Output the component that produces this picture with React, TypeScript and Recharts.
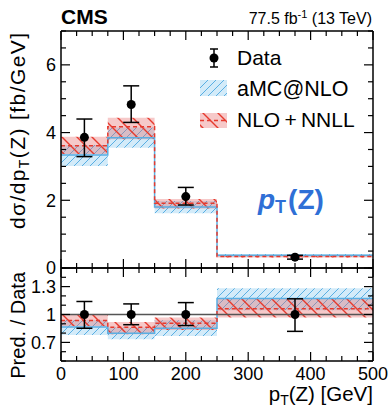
import React from "react";
import { ComposedChart, Area, Line, Scatter, ErrorBar, XAxis, YAxis, ReferenceLine } from "recharts";

// pT(Z) bins [GeV]
const binEdges = [0, 75, 150, 250, 500];
const binCenters = [37.5, 112.5, 200, 375];

// measured dsigma/dpT [fb/GeV] with total uncertainty band edges
const dataXsec = [3.86, 4.83, 2.11, 0.32];
const dataHigh = [4.4, 5.38, 2.38, 0.374];
const dataLow = [3.29, 4.3, 1.86, 0.262];

// aMC@NLO prediction
const amcCentral = [3.34, 3.85, 1.8, 0.375];
const amcLow = [3.01, 3.55, 1.62, 0.335];
const amcHigh = [3.63, 4.15, 1.98, 0.41];

// NLO+NNLL prediction
const nnllCentral = [3.61, 4.17, 1.91, 0.34];
const nnllLow = [3.37, 3.8, 1.76, 0.31];
const nnllHigh = [3.88, 4.44, 2.04, 0.375];

const xTicks = [0, 25, 50, 75, 100, 125, 150, 175, 200, 225, 250, 275, 300, 325, 350, 375, 400, 425, 450, 475, 500];
const xLabels = [0, 100, 200, 300, 400, 500];
const mainTicks = [0, 0.5, 1, 1.5, 2, 2.5, 3, 3.5, 4, 4.5, 5, 5.5, 6, 6.5, 7];
const mainLabels = [0, 2, 4, 6];
const ratioTicks = [0.5, 0.6, 0.7, 0.8, 0.9, 1, 1.1, 1.2, 1.3, 1.4, 1.5];
const ratioLabels = [0.7, 1, 1.3];

const FONT = "'Liberation Sans', Arial, Helvetica, sans-serif";
const BLUE = "#5aafe3";
const RED = "#e63a2e";

// step rows: one per bin edge, last edge repeats the last bin
function stepRows(central: number[], low: number[], high: number[], norm?: number[]) {
  return binEdges.map((x, i) => {
    const k = Math.min(i, central.length - 1);
    const d = norm ? norm[k] : 1;
    return { x, c: central[k] / d, band: [low[k] / d, high[k] / d] };
  });
}

const amcMain = stepRows(amcCentral, amcLow, amcHigh);
const nnllMain = stepRows(nnllCentral, nnllLow, nnllHigh);
const amcRatio = stepRows(amcCentral, amcLow, amcHigh, dataXsec);
const nnllRatio = stepRows(nnllCentral, nnllLow, nnllHigh, dataXsec);

const pointsMain = binCenters.map((x, i) => ({
  x,
  y: dataXsec[i],
  err: [dataXsec[i] - dataLow[i], dataHigh[i] - dataXsec[i]],
}));
const pointsRatio = binCenters.map((x, i) => ({
  x,
  y: 1,
  err: [(dataXsec[i] - dataLow[i]) / dataXsec[i], (dataHigh[i] - dataXsec[i]) / dataXsec[i]],
}));

const isMajor = (v: number, labels: number[]) => labels.some((l) => Math.abs(l - v) < 1e-6);

// inward pointing ticks, ROOT style
const makeTick =
  (side: "bottom" | "top" | "left" | "right", labels: number[], showText: boolean) =>
  (props: any) => {
    const { x, y, payload } = props;
    const v = payload.value as number;
    const big = isMajor(v, labels);
    const len = big ? 9 : 5;
    let x2 = x;
    let y2 = y;
    if (side === "bottom") y2 = y - len;
    if (side === "top") y2 = y + len;
    if (side === "left") x2 = x + len;
    if (side === "right") x2 = x - len;
    return (
      <g>
        <line x1={x} y1={y} x2={x2} y2={y2} stroke="#000" strokeWidth={1.2} />
        {showText && big && side === "bottom" && (
          <text x={x} y={y + 18.5} textAnchor="middle" fontFamily={FONT} fontSize={18} fill="#000">
            {v}
          </text>
        )}
        {showText && big && side === "left" && (
          <text x={x - 5} y={y} dy="0.36em" textAnchor="end" fontFamily={FONT} fontSize={18} fill="#000">
            {v}
          </text>
        )}
      </g>
    );
  };

const axisLine = { stroke: "#000", strokeWidth: 1.5 };

function Dot(p: any) {
  return <circle cx={p.cx} cy={p.cy} r={4.5} fill="#000" />;
}

export default function App() {
  return (
    <div style={{ position: "fixed", left: 0, top: 0, width: 388, height: 407, overflow: "hidden", background: "#fff" }}>
      <style>{`.recharts-surface { overflow: visible; }`}</style>
      <svg width={0} height={0} style={{ position: "absolute" }}>
        <defs>
          <pattern id="amcHatch" width={8} height={8} patternUnits="userSpaceOnUse">
            <rect width={8} height={8} fill="#d3ebf9" />
            <path d="M-2,2 L2,-2 M0,8 L8,0 M6,10 L10,6" stroke={BLUE} strokeWidth={1} />
          </pattern>
          <pattern id="nnllHatch" width={15} height={15} patternUnits="userSpaceOnUse">
            <rect width={15} height={15} fill="rgba(230,100,100,0.35)" />
            <path d="M-2,13 L2,17 M0,0 L15,15 M13,-2 L17,2" stroke={RED} strokeWidth={1.4} />
          </pattern>
        </defs>
      </svg>

      {/* upper panel: differential cross section */}
      <div style={{ position: "absolute", left: 0, top: 0 }}>
        <ComposedChart width={388} height={269} margin={{ top: 0, right: 0, bottom: 0, left: 0 }}>
          <XAxis xAxisId="top" orientation="top" dataKey="x" type="number" domain={[0, 500]} ticks={xTicks}
            interval={0} allowDataOverflow height={31} tickSize={0} tickMargin={0} tickLine={false}
            axisLine={axisLine} tick={makeTick("top", xLabels, false)} />
          <XAxis dataKey="x" type="number" domain={[0, 500]} ticks={xTicks} interval={0} allowDataOverflow
            height={1} tickSize={0} tickMargin={0} tickLine={false} axisLine={axisLine}
            tick={makeTick("bottom", xLabels, false)} />
          <YAxis type="number" domain={[0, 7]} ticks={mainTicks} interval={0} allowDataOverflow width={61}
            tickSize={0} tickMargin={0} tickLine={false} axisLine={axisLine} tick={makeTick("left", mainLabels, true)} />
          <YAxis yAxisId="right" orientation="right" type="number" domain={[0, 7]} ticks={mainTicks} interval={0}
            allowDataOverflow width={15} tickSize={0} tickMargin={0} tickLine={false} axisLine={axisLine}
            tick={makeTick("right", mainLabels, false)} />
          <Area data={amcMain} dataKey="band" type="stepAfter" fill="url(#amcHatch)" fillOpacity={1}
            stroke="none" isAnimationActive={false} />
          <Line data={amcMain} dataKey="c" type="stepAfter" stroke={BLUE} strokeWidth={1.5} dot={false}
            activeDot={false} isAnimationActive={false} />
          <Area data={nnllMain} dataKey="band" type="stepAfter" fill="url(#nnllHatch)" fillOpacity={1}
            stroke="none" isAnimationActive={false} />
          <Line data={nnllMain} dataKey="c" type="stepAfter" stroke={RED} strokeWidth={1.5}
            strokeDasharray="4 3" dot={false} activeDot={false} isAnimationActive={false} />
          <Scatter data={pointsMain} dataKey="y" shape={Dot} isAnimationActive={false}>
            <ErrorBar dataKey="err" direction="y" width={8} stroke="#000" strokeWidth={1.5}
              isAnimationActive={false} />
          </Scatter>
        </ComposedChart>
      </div>

      {/* lower panel: prediction over data */}
      <div style={{ position: "absolute", left: 0, top: 267 }}>
        <ComposedChart width={388} height={134} margin={{ top: 0, right: 0, bottom: 0, left: 0 }}>
          <XAxis xAxisId="top" orientation="top" dataKey="x" type="number" domain={[0, 500]} ticks={xTicks}
            interval={0} allowDataOverflow height={1} tickSize={0} tickMargin={0} tickLine={false}
            axisLine={axisLine} tick={makeTick("top", xLabels, false)} />
          <XAxis dataKey="x" type="number" domain={[0, 500]} ticks={xTicks} interval={0} allowDataOverflow
            height={40} tickSize={0} tickMargin={0} tickLine={false} axisLine={axisLine}
            tick={makeTick("bottom", xLabels, true)} />
          <YAxis type="number" domain={[0.5, 1.5]} ticks={ratioTicks} interval={0} allowDataOverflow width={61}
            tickSize={0} tickMargin={0} tickLine={false} axisLine={axisLine} tick={makeTick("left", ratioLabels, true)} />
          <YAxis yAxisId="right" orientation="right" type="number" domain={[0.5, 1.5]} ticks={ratioTicks}
            interval={0} allowDataOverflow width={15} tickSize={0} tickMargin={0} tickLine={false}
            axisLine={axisLine} tick={makeTick("right", ratioLabels, false)} />
          <Area data={amcRatio} dataKey="band" type="stepAfter" fill="url(#amcHatch)" fillOpacity={1}
            stroke="none" isAnimationActive={false} />
          <Line data={amcRatio} dataKey="c" type="stepAfter" stroke={BLUE} strokeWidth={1.5} dot={false}
            activeDot={false} isAnimationActive={false} />
          <Area data={nnllRatio} dataKey="band" type="stepAfter" fill="url(#nnllHatch)" fillOpacity={1}
            stroke="none" isAnimationActive={false} />
          <Line data={nnllRatio} dataKey="c" type="stepAfter" stroke={RED} strokeWidth={1.5}
            strokeDasharray="4 3" dot={false} activeDot={false} isAnimationActive={false} />
          <ReferenceLine y={1} stroke="#555" strokeWidth={1.5} />
          <Scatter data={pointsRatio} dataKey="y" shape={Dot} isAnimationActive={false}>
            <ErrorBar dataKey="err" direction="y" width={8} stroke="#000" strokeWidth={1.5}
              isAnimationActive={false} />
          </Scatter>
        </ComposedChart>
      </div>

      {/* titles, labels and legend */}
      <svg width={388} height={407} style={{ position: "absolute", left: 0, top: 0, pointerEvents: "none" }}
        fontFamily={FONT}>
        <text x={61} y={24} fontSize={21} fontWeight="bold">CMS</text>
        <text x={372} y={24} fontSize={16} textAnchor="end">
          77.5 fb<tspan fontSize={11} dy={-6}>-1</tspan>
          <tspan dy={6}> (13 TeV)</tspan>
        </text>

        <text transform="translate(25,33) rotate(-90)" fontSize={21} textAnchor="end"
          textLength={196} lengthAdjust="spacing">
          dσ/dp<tspan fontSize={14} dy={4}>T</tspan>
          <tspan dy={-4}>(Z) [fb/GeV]</tspan>
        </text>
        <text transform="translate(25,272) rotate(-90)" fontSize={20} textAnchor="end">
          Pred. / Data
        </text>
        <text x={373} y={401} fontSize={20.5} textAnchor="end">
          p<tspan fontSize={14} dy={4}>T</tspan>
          <tspan dy={-4}>(Z) [GeV]</tspan>
        </text>

        <text x={258} y={209} fontSize={28} fontWeight="bold" fill="#2f6fd6">
          <tspan fontStyle="italic">p</tspan>
          <tspan fontSize={18} dy={4}>T</tspan>
          <tspan dy={-4} dx={2}>(Z)</tspan>
        </text>

        {/* legend */}
        <line x1={214} y1={49} x2={214} y2={67} stroke="#000" strokeWidth={1.5} />
        <line x1={210} y1={49} x2={218} y2={49} stroke="#000" strokeWidth={1.5} />
        <line x1={210} y1={67} x2={218} y2={67} stroke="#000" strokeWidth={1.5} />
        <circle cx={214} cy={58} r={4.5} fill="#000" />
        <text x={237} y={65} fontSize={21}>Data</text>

        <rect x={200} y={80} width={27} height={16} fill="url(#amcHatch)" />
        <text x={237} y={96} fontSize={21.5}>aMC@NLO</text>

        <rect x={200} y={113} width={27} height={15} fill="url(#nnllHatch)" />
        <line x1={200} y1={120.5} x2={227} y2={120.5} stroke={RED} strokeWidth={1.5} strokeDasharray="4 3" />
        <text x={237} y={127} fontSize={21}>NLO{"\u2009"}+{"\u2009"}NNLL</text>
      </svg>
    </div>
  );
}
